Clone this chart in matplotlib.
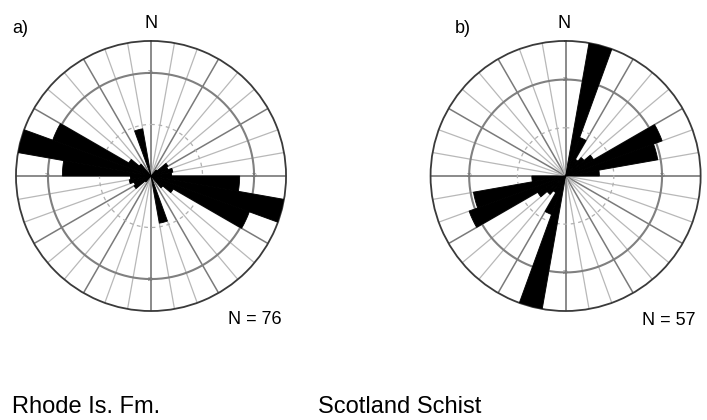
import numpy as np
import matplotlib.pyplot as plt

plt.rcParams['font.family'] = ['Liberation Sans', 'DejaVu Sans']

# 10-degree azimuth bins 0-180 (axial data, repeated for 180-360)
bin_starts = np.arange(0, 180, 10)
rhode_vals = [0, 0, 0, 0, 1.5, 3.8, 3.5, 4.3, 4.0, 17.2, 26.2, 20.3, 5.0, 3.0, 0, 0, 9.3, 0]
scotland_vals = [0, 28, 8.5, 4.0, 5.0, 6.7, 21.3, 19.4, 7.0, 0, 0, 0, 0, 0, 0, 0, 0, 0]
rmax_a = 26.2
rmax_b = 28.0
panel_labels = ['a)', 'b)']
counts = ['N = 76', 'N = 57']
names = ['Rhode Is. Fm.', 'Scotland Schist']


def rose(ax, vals, rmax):
    ax.set_theta_zero_location('N')
    ax.set_theta_direction(-1)
    ax.grid(False)
    ax.set_xticks([])
    ax.set_yticks([])
    ax.set_ylim(0, rmax)
    ax.spines['polar'].set_color('#3a3a3a')
    ax.spines['polar'].set_linewidth(1.3)

    # spokes every 10 deg, darker every 30 deg
    for deg in range(0, 360, 10):
        t = np.deg2rad(deg)
        if deg % 90 == 0:
            c, lw = '#8a8a8a', 1.4
        elif deg % 30 == 0:
            c, lw = '#7a7a7a', 1.1
        else:
            c, lw = '#b8b8b8', 0.9
        ax.plot([t, t], [0, rmax], color=c, lw=lw, zorder=1)

    th = np.linspace(0, 2 * np.pi, 361)
    ax.plot(th, np.full_like(th, 20), color='#808080', lw=1.5, zorder=1)
    ax.plot(th, np.full_like(th, 10), color='#b0b0b0', lw=0.9, ls=(0, (3, 3)), zorder=1)
    for deg in (0, 90, 180, 270):
        ax.text(np.deg2rad(deg), 20, '20', fontsize=3.5, color='#707070',
                ha='center', va='center', zorder=2)

    v = np.concatenate([vals, vals])
    starts = np.concatenate([bin_starts, bin_starts + 180])
    ax.bar(np.deg2rad(starts + 5), v, width=np.deg2rad(10), bottom=0,
           color='black', edgecolor='black', linewidth=0.6, zorder=3)


fig = plt.figure(figsize=(7.07, 4.2), dpi=100)
ax_a = fig.add_axes([0.0226, 0.2595, 0.382, 0.643], projection='polar')
ax_b = fig.add_axes([0.609, 0.2595, 0.382, 0.643], projection='polar')
rose(ax_a, rhode_vals, rmax_a)
rose(ax_b, scotland_vals, rmax_b)

fig.text(12 / 707, 1 - 33 / 420, panel_labels[0], fontsize=13, ha='left', va='baseline')
fig.text(455 / 707, 1 - 33 / 420, panel_labels[1], fontsize=13, ha='left', va='baseline')
fig.text(151 / 707, 1 - 28 / 420, 'N', fontsize=13, ha='center', va='baseline')
fig.text(564 / 707, 1 - 28 / 420, 'N', fontsize=13, ha='center', va='baseline')
fig.text(228 / 707, 1 - 324 / 420, counts[0], fontsize=13, ha='left', va='baseline')
fig.text(642 / 707, 1 - 325 / 420, counts[1], fontsize=13, ha='left', va='baseline')
fig.text(12 / 707, 1 - 413 / 420, names[0], fontsize=17, ha='left', va='baseline')
fig.text(318 / 707, 1 - 413 / 420, names[1], fontsize=17, ha='left', va='baseline')

fig.savefig('out.png', dpi=100)
